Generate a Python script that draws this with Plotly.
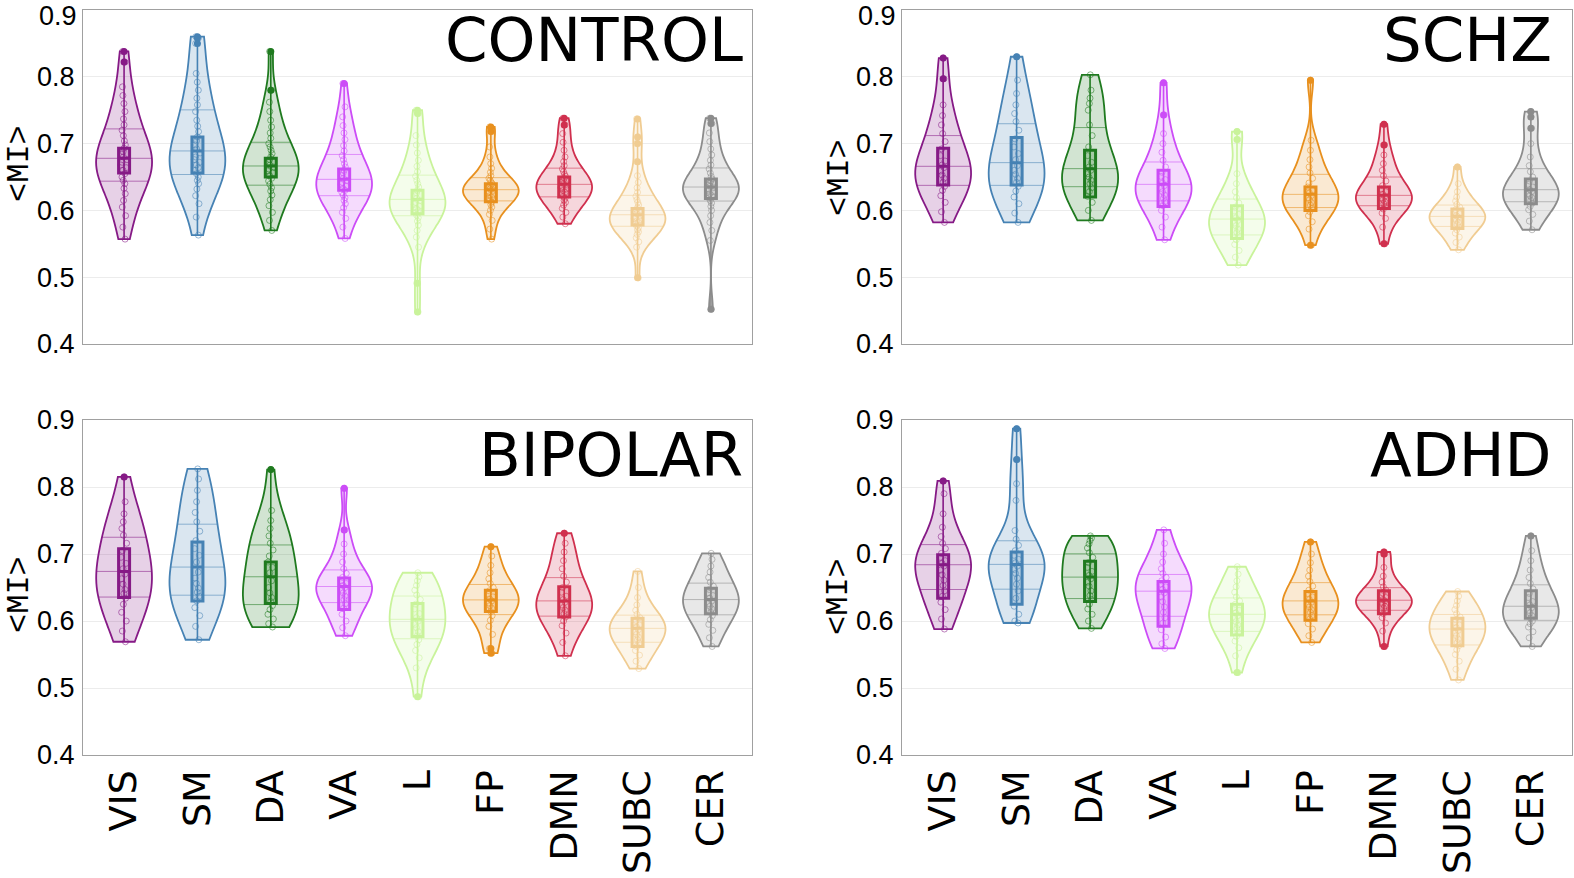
import numpy as np
import plotly.graph_objects as go

W, H = 1574, 878

CATEGORIES = ["VIS", "SM", "DA", "VA", "L", "FP", "DMN", "SUBC", "CER"]
COLORS = ["#861A86", "#4682B4", "#1F7A1F", "#CC4CF7", "#C9F39B",
          "#E8901E", "#D0304E", "#F0CC92", "#8C8C8C"]
PANELS = ["CONTROL", "SCHZ", "BIPOLAR", "ADHD"]
Y_TICKS = [0.4, 0.5, 0.6, 0.7, 0.8, 0.9]

# ---------------- CONTROL ----------------
CONTROL_VALUES = [
    [0.557, 0.575, 0.592, 0.605, 0.615, 0.625, 0.633, 0.640, 0.645, 0.650, 0.655, 0.660, 0.664, 0.668, 0.672, 0.676,
     0.680, 0.684, 0.688, 0.693, 0.698, 0.704, 0.712, 0.720, 0.728, 0.737, 0.748, 0.760, 0.772, 0.785, 0.822, 0.838],
    [0.563, 0.590, 0.610, 0.622, 0.632, 0.640, 0.645, 0.650, 0.655, 0.660, 0.664, 0.668, 0.672, 0.676, 0.680, 0.686,
     0.692, 0.698, 0.704, 0.710, 0.718, 0.726, 0.735, 0.748, 0.758, 0.768, 0.780, 0.792, 0.805, 0.850, 0.858, 0.860],
    [0.570, 0.585, 0.597, 0.607, 0.616, 0.623, 0.629, 0.634, 0.639, 0.644, 0.648, 0.652, 0.656, 0.659, 0.662, 0.665,
     0.668, 0.672, 0.676, 0.680, 0.685, 0.690, 0.695, 0.700, 0.708, 0.716, 0.725, 0.735, 0.748, 0.762, 0.780, 0.838],
    [0.558, 0.575, 0.588, 0.597, 0.604, 0.610, 0.615, 0.619, 0.623, 0.627, 0.630, 0.633, 0.636, 0.639, 0.642, 0.645,
     0.648, 0.652, 0.656, 0.660, 0.665, 0.670, 0.676, 0.682, 0.689, 0.697, 0.706, 0.716, 0.727, 0.740, 0.755, 0.790],
    [0.448, 0.491, 0.545, 0.560, 0.570, 0.578, 0.584, 0.589, 0.593, 0.597, 0.600, 0.603, 0.606, 0.609, 0.612, 0.615,
     0.618, 0.622, 0.626, 0.630, 0.635, 0.640, 0.645, 0.651, 0.658, 0.666, 0.675, 0.686, 0.698, 0.712, 0.745, 0.750],
    [0.557, 0.572, 0.585, 0.594, 0.600, 0.605, 0.609, 0.612, 0.615, 0.618, 0.620, 0.622, 0.624, 0.626, 0.628, 0.630,
     0.632, 0.634, 0.636, 0.638, 0.640, 0.642, 0.645, 0.648, 0.652, 0.657, 0.663, 0.670, 0.680, 0.695, 0.718, 0.725],
    [0.580, 0.590, 0.597, 0.603, 0.608, 0.612, 0.615, 0.618, 0.621, 0.624, 0.627, 0.630, 0.632, 0.634, 0.636, 0.638,
     0.640, 0.642, 0.645, 0.648, 0.651, 0.654, 0.658, 0.662, 0.667, 0.673, 0.680, 0.690, 0.702, 0.715, 0.728, 0.738],
    [0.499, 0.545, 0.553, 0.559, 0.564, 0.568, 0.571, 0.574, 0.577, 0.580, 0.582, 0.584, 0.586, 0.588, 0.590, 0.592,
     0.595, 0.598, 0.601, 0.604, 0.608, 0.612, 0.616, 0.621, 0.627, 0.634, 0.642, 0.652, 0.673, 0.700, 0.710, 0.737],
    [0.452, 0.555, 0.570, 0.582, 0.592, 0.600, 0.606, 0.611, 0.615, 0.619, 0.622, 0.625, 0.628, 0.630, 0.632, 0.634,
     0.636, 0.638, 0.641, 0.644, 0.647, 0.651, 0.656, 0.662, 0.668, 0.675, 0.683, 0.692, 0.703, 0.716, 0.730, 0.738],
]
CONTROL_FILLED = [[0.838, 0.822], [0.860, 0.858, 0.850], [0.838, 0.780], [0.790],
                  [0.750, 0.745, 0.491, 0.448], [0.725, 0.718], [0.738, 0.728],
                  [0.737, 0.710, 0.700, 0.673, 0.499], [0.738, 0.730, 0.452]]
CONTROL_BOX_LO = [0.656, 0.656, 0.650, 0.630, 0.595, 0.613, 0.620, 0.578, 0.618]
CONTROL_BOX_HI = [0.693, 0.710, 0.678, 0.662, 0.630, 0.640, 0.650, 0.603, 0.647]

# ---------------- SCHZ ----------------
SCHZ_VALUES = [
    [0.582, 0.598, 0.612, 0.622, 0.630, 0.636, 0.642, 0.648, 0.653, 0.659, 0.664, 0.668, 0.674, 0.682, 0.692, 0.703,
     0.715, 0.728, 0.742, 0.758, 0.797, 0.828],
    [0.582, 0.596, 0.610, 0.620, 0.629, 0.636, 0.642, 0.648, 0.654, 0.660, 0.667, 0.676, 0.685, 0.695, 0.707, 0.720,
     0.733, 0.745, 0.758, 0.775, 0.795, 0.830],
    [0.585, 0.600, 0.612, 0.621, 0.628, 0.634, 0.640, 0.645, 0.650, 0.655, 0.660, 0.665, 0.672, 0.682, 0.695, 0.712,
     0.728, 0.750, 0.760, 0.768, 0.780, 0.803],
    [0.556, 0.575, 0.590, 0.600, 0.607, 0.613, 0.618, 0.623, 0.628, 0.633, 0.637, 0.641, 0.646, 0.651, 0.657, 0.665,
     0.675, 0.687, 0.700, 0.715, 0.743, 0.791],
    [0.518, 0.530, 0.540, 0.549, 0.556, 0.562, 0.567, 0.572, 0.577, 0.581, 0.585, 0.589, 0.594, 0.599, 0.605, 0.611,
     0.619, 0.628, 0.640, 0.655, 0.706, 0.718],
    [0.548, 0.572, 0.583, 0.592, 0.598, 0.603, 0.608, 0.612, 0.616, 0.619, 0.622, 0.626, 0.630, 0.635, 0.641, 0.648,
     0.656, 0.665, 0.676, 0.690, 0.705, 0.795],
    [0.550, 0.575, 0.588, 0.596, 0.602, 0.606, 0.610, 0.613, 0.616, 0.619, 0.621, 0.624, 0.628, 0.632, 0.637, 0.644,
     0.652, 0.660, 0.670, 0.683, 0.698, 0.729],
    [0.541, 0.552, 0.560, 0.566, 0.571, 0.575, 0.579, 0.582, 0.585, 0.588, 0.590, 0.592, 0.595, 0.598, 0.601, 0.605,
     0.609, 0.614, 0.620, 0.628, 0.640, 0.665],
    [0.571, 0.584, 0.594, 0.601, 0.606, 0.611, 0.615, 0.619, 0.622, 0.625, 0.628, 0.631, 0.635, 0.639, 0.644, 0.650,
     0.658, 0.667, 0.680, 0.700, 0.723, 0.740, 0.748],
]
SCHZ_FILLED = [[0.828, 0.797], [0.830], [], [0.791, 0.743], [0.718, 0.706], [0.795, 0.548],
               [0.729, 0.698, 0.550], [0.665], [0.748, 0.740, 0.723]]
SCHZ_BOX_LO = [0.638, 0.638, 0.620, 0.606, 0.558, 0.600, 0.603, 0.573, 0.610]
SCHZ_BOX_HI = [0.693, 0.709, 0.690, 0.660, 0.607, 0.635, 0.635, 0.602, 0.647]

# ---------------- BIPOLAR ----------------
BIPOLAR_VALUES = [
    [0.569, 0.585, 0.600, 0.613, 0.625, 0.634, 0.641, 0.647, 0.655, 0.663, 0.670, 0.678, 0.686, 0.695, 0.705, 0.716,
     0.728, 0.738, 0.748, 0.760, 0.778, 0.815],
    [0.572, 0.592, 0.608, 0.620, 0.630, 0.637, 0.643, 0.649, 0.656, 0.664, 0.673, 0.688, 0.698, 0.708, 0.720, 0.734,
     0.748, 0.762, 0.778, 0.795, 0.812, 0.827],
    [0.591, 0.596, 0.603, 0.610, 0.617, 0.623, 0.629, 0.635, 0.642, 0.650, 0.660, 0.672, 0.680, 0.688, 0.697, 0.706,
     0.716, 0.727, 0.738, 0.750, 0.765, 0.826],
    [0.578, 0.590, 0.600, 0.610, 0.619, 0.626, 0.632, 0.637, 0.642, 0.646, 0.650, 0.653, 0.656, 0.660, 0.665, 0.671,
     0.678, 0.688, 0.700, 0.715, 0.736, 0.798],
    [0.487, 0.530, 0.545, 0.556, 0.565, 0.572, 0.578, 0.584, 0.590, 0.595, 0.600, 0.605, 0.611, 0.618, 0.625, 0.632,
     0.639, 0.646, 0.653, 0.660, 0.666, 0.672],
    [0.552, 0.559, 0.580, 0.592, 0.601, 0.608, 0.614, 0.619, 0.623, 0.627, 0.630, 0.633, 0.636, 0.640, 0.645, 0.650,
     0.656, 0.663, 0.672, 0.683, 0.697, 0.711],
    [0.548, 0.568, 0.582, 0.593, 0.600, 0.606, 0.611, 0.616, 0.620, 0.624, 0.628, 0.632, 0.637, 0.643, 0.650, 0.658,
     0.667, 0.678, 0.690, 0.703, 0.716, 0.731],
    [0.529, 0.540, 0.549, 0.556, 0.562, 0.567, 0.572, 0.576, 0.580, 0.584, 0.587, 0.591, 0.594, 0.598, 0.601, 0.605,
     0.610, 0.616, 0.624, 0.635, 0.650, 0.674],
    [0.562, 0.575, 0.586, 0.595, 0.602, 0.608, 0.613, 0.618, 0.622, 0.626, 0.630, 0.634, 0.638, 0.642, 0.647, 0.652,
     0.658, 0.665, 0.673, 0.682, 0.692, 0.701],
]
BIPOLAR_FILLED = [[0.815], [], [0.826], [0.798, 0.736], [0.487], [0.711, 0.559, 0.552], [0.731], [], []]
BIPOLAR_BOX_LO = [0.635, 0.630, 0.626, 0.617, 0.577, 0.614, 0.606, 0.562, 0.611]
BIPOLAR_BOX_HI = [0.708, 0.718, 0.688, 0.664, 0.626, 0.646, 0.651, 0.604, 0.649]

# ---------------- ADHD ----------------
ADHD_VALUES = [
    [0.588, 0.603, 0.617, 0.628, 0.637, 0.645, 0.653, 0.661, 0.669, 0.676, 0.682, 0.686, 0.690, 0.695, 0.701, 0.708,
     0.716, 0.726, 0.740, 0.760, 0.790, 0.809],
    [0.597, 0.600, 0.610, 0.622, 0.634, 0.645, 0.655, 0.664, 0.671, 0.677, 0.682, 0.687, 0.692, 0.698, 0.705, 0.713,
     0.722, 0.735, 0.780, 0.805, 0.841, 0.887],
    [0.589, 0.600, 0.610, 0.618, 0.625, 0.632, 0.638, 0.645, 0.652, 0.658, 0.663, 0.668, 0.674, 0.680, 0.687, 0.695,
     0.702, 0.709, 0.715, 0.720, 0.724, 0.727],
    [0.559, 0.566, 0.576, 0.587, 0.597, 0.605, 0.613, 0.621, 0.629, 0.636, 0.642, 0.647, 0.651, 0.655, 0.660, 0.665,
     0.671, 0.678, 0.688, 0.700, 0.716, 0.736],
    [0.523, 0.548, 0.560, 0.570, 0.577, 0.583, 0.589, 0.594, 0.599, 0.604, 0.608, 0.612, 0.616, 0.620, 0.625, 0.630,
     0.636, 0.643, 0.651, 0.660, 0.670, 0.681],
    [0.568, 0.578, 0.588, 0.596, 0.603, 0.608, 0.613, 0.617, 0.621, 0.625, 0.628, 0.632, 0.636, 0.641, 0.646, 0.652,
     0.659, 0.667, 0.676, 0.687, 0.700, 0.718],
    [0.562, 0.585, 0.597, 0.605, 0.611, 0.615, 0.619, 0.622, 0.625, 0.628, 0.630, 0.632, 0.635, 0.638, 0.642, 0.646,
     0.651, 0.658, 0.667, 0.680, 0.700, 0.703],
    [0.512, 0.528, 0.540, 0.550, 0.557, 0.563, 0.568, 0.573, 0.578, 0.582, 0.586, 0.590, 0.594, 0.598, 0.602, 0.606,
     0.611, 0.617, 0.623, 0.630, 0.637, 0.644],
    [0.562, 0.575, 0.584, 0.591, 0.596, 0.600, 0.604, 0.608, 0.612, 0.616, 0.620, 0.624, 0.629, 0.635, 0.641, 0.648,
     0.656, 0.665, 0.676, 0.690, 0.705, 0.727],
]
ADHD_FILLED = [[0.809], [0.887, 0.841], [], [], [0.523], [0.718], [0.703, 0.700, 0.562], [], [0.727]]
ADHD_BOX_LO = [0.634, 0.625, 0.629, 0.592, 0.579, 0.601, 0.611, 0.563, 0.604]
ADHD_BOX_HI = [0.699, 0.703, 0.689, 0.659, 0.625, 0.644, 0.645, 0.604, 0.645]

PANEL_VALUES = [CONTROL_VALUES, SCHZ_VALUES, BIPOLAR_VALUES, ADHD_VALUES]
PANEL_FILLED = [CONTROL_FILLED, SCHZ_FILLED, BIPOLAR_FILLED, ADHD_FILLED]
PANEL_BOX_LO = [CONTROL_BOX_LO, SCHZ_BOX_LO, BIPOLAR_BOX_LO, ADHD_BOX_LO]
PANEL_BOX_HI = [CONTROL_BOX_HI, SCHZ_BOX_HI, BIPOLAR_BOX_HI, ADHD_BOX_HI]

# ---------------- layout geometry (page pixels) ----------------
PLOT_X = [(83, 752), (902, 1572), (83, 752), (902, 1572)]
PLOT_Y = [(10, 344), (10, 344), (420, 755), (420, 755)]
VIOLIN_W = 0.76
BOX_W = 0.15
TICK_FONT = dict(family="Liberation Sans", size=27, color="black")


def px_x(x):
    return x / W


def px_y(y):
    return 1 - y / H


def rgba(hexc, a):
    h = hexc.lstrip("#")
    r, g, b = int(h[0:2], 16), int(h[2:4], 16), int(h[4:6], 16)
    return f"rgba({r},{g},{b},{a})"


def silverman(v):
    n = len(v)
    sd = np.std(v, ddof=1)
    q1, q3 = np.percentile(v, [25, 75])
    return 1.059 * min(sd, (q3 - q1) / 1.349) * n ** -0.2


def kde(v, t, bw):
    t = np.atleast_1d(t)
    return np.exp(-0.5 * ((t[:, None] - v[None, :]) / bw) ** 2).sum(axis=1)


fig = go.Figure()

for p in range(4):
    ax = "" if p == 0 else str(p + 1)
    xref, yref = "x" + ax, "y" + ax
    for i, cat in enumerate(CATEGORIES):
        col = COLORS[i]
        v = np.array(sorted(PANEL_VALUES[p][i]))
        bw = silverman(v)
        lo, hi = v.min(), v.max()
        nstep = int(np.ceil((hi - lo) / (bw / 3)))
        grid = np.linspace(lo, hi, nstep + 1)
        maxk = kde(v, grid, bw).max()
        half = VIOLIN_W / 2

        fig.add_trace(go.Violin(
            x=[i] * len(v), y=v, xaxis=xref, yaxis=yref,
            width=VIOLIN_W, spanmode="hard", bandwidth=bw, scalemode="width",
            points="all", pointpos=0, jitter=0.12,
            line=dict(color=col, width=1.8), fillcolor=rgba(col, 0.2),
            marker=dict(symbol="circle-open", size=6, color=rgba(col, 0.55),
                        line=dict(width=1)),
            box_visible=False, meanline_visible=False,
            showlegend=False, hoverinfo="y", name=cat))

        q1, med, q3 = np.percentile(v, [25, 50, 75])
        xs, ys = [], []
        for q in (q1, med, q3):
            hw = half * kde(v, q, bw)[0] / maxk
            xs += [i - hw, i + hw, None]
            ys += [q, q, None]
        fig.add_trace(go.Scatter(x=xs, y=ys, xaxis=xref, yaxis=yref, mode="lines",
                                 line=dict(color=rgba(col, 0.55), width=1),
                                 showlegend=False, hoverinfo="skip"))
        fig.add_trace(go.Scatter(x=[i, i], y=[lo, hi], xaxis=xref, yaxis=yref, mode="lines",
                                 line=dict(color=col, width=1.6),
                                 showlegend=False, hoverinfo="skip"))
        blo, bhi = PANEL_BOX_LO[p][i], PANEL_BOX_HI[p][i]
        fig.add_trace(go.Box(
            x=[i], q1=[blo], median=[med], q3=[bhi], lowerfence=[blo], upperfence=[bhi],
            xaxis=xref, yaxis=yref, width=BOX_W, whiskerwidth=0,
            line=dict(color=col, width=3), fillcolor=rgba(col, 0.25),
            showlegend=False, hoverinfo="skip", boxpoints=False))
        f = PANEL_FILLED[p][i]
        if f:
            fig.add_trace(go.Scatter(x=[i] * len(f), y=f, xaxis=xref, yaxis=yref, mode="markers",
                                     marker=dict(symbol="circle", size=7, color=col),
                                     showlegend=False, hoverinfo="y"))

layout = dict(
    width=W, height=H, margin=dict(l=0, r=0, t=0, b=0, autoexpand=False),
    paper_bgcolor="white", plot_bgcolor="white",
    violinmode="overlay", boxmode="overlay",
    showlegend=False,
)
annotations = []
for p in range(4):
    ax = "" if p == 0 else str(p + 1)
    x0, x1 = PLOT_X[p]
    y0, y1 = PLOT_Y[p]
    bottom = p >= 2
    # the top label of the upper panels sits at the page edge: drawn as an annotation below
    labels = [f"{t:.1f}" for t in Y_TICKS]
    if not bottom:
        labels[-1] = ""
        annotations.append(dict(text=f"{Y_TICKS[-1]:.1f}", x=px_x(x0 - 5), y=1.0,
                                xref="paper", yref="paper", xanchor="right", yanchor="top",
                                showarrow=False, font=TICK_FONT, borderpad=0))
    layout["xaxis" + ax] = dict(
        domain=[px_x(x0), px_x(x1)], anchor="y" + ax, range=[-0.56, 8.56],
        tickmode="array", tickvals=list(range(9)), ticktext=CATEGORIES,
        showticklabels=bottom, tickangle=-90, ticks="", ticklabelstandoff=-1,
        ticklabeloverflow="allow",
        tickfont=dict(family="DejaVu Sans", size=38, color="black"),
        showgrid=False, zeroline=False, showline=True, mirror=True, automargin=False,
        linecolor="#A0A0A0", linewidth=1)
    layout["yaxis" + ax] = dict(
        domain=[px_y(y1), px_y(y0)], anchor="x" + ax, range=[0.4, 0.9],
        tickmode="array", tickvals=Y_TICKS, ticktext=labels,
        ticks="", ticklabelstandoff=2, automargin=False, ticklabeloverflow="allow",
        tickfont=TICK_FONT,
        showgrid=True, gridcolor="#ECECEC", gridwidth=1, zeroline=False,
        showline=True, mirror=True, linecolor="#A0A0A0", linewidth=1)

TITLE_POS = [(745, 40), (1554, 40), (745, 454), (1554, 454)]
YLAB_POS = [(19, 164), (839, 178), (19, 595), (838, 597)]
for p in range(4):
    tx, ty = TITLE_POS[p]
    annotations.append(dict(text=PANELS[p], x=px_x(tx), y=px_y(ty), xref="paper", yref="paper",
                            xanchor="right", yanchor="middle", showarrow=False,
                            font=dict(family="DejaVu Sans", size=61, color="black")))
    lx, ly = YLAB_POS[p]
    annotations.append(dict(text="&lt;MI&gt;", x=px_x(lx), y=px_y(ly), xref="paper", yref="paper",
                            xanchor="center", yanchor="middle", showarrow=False, textangle=-90,
                            font=dict(family="Liberation Mono", size=32, color="black")))
layout["annotations"] = annotations
fig.update_layout(**layout)
fig.write_html("out.html", config={"displayModeBar": False},
               post_script="document.body.style.margin='0';document.body.style.overflow='hidden';")
